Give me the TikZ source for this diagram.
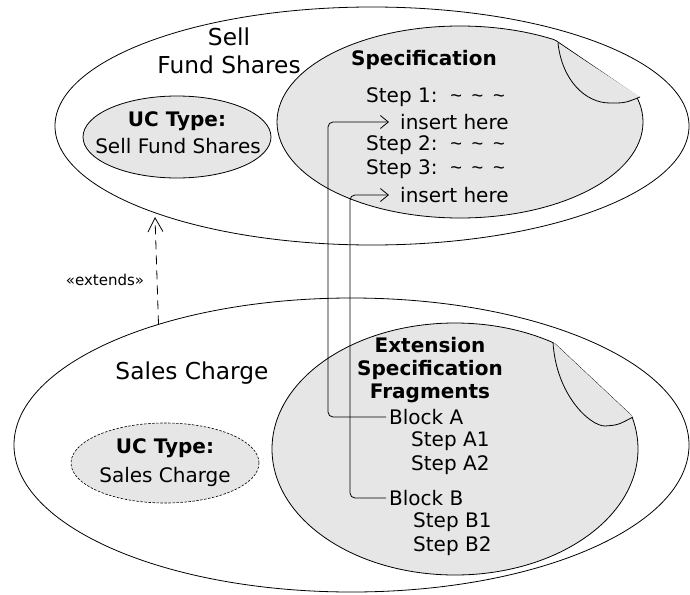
\documentclass[tikz,border=0pt]{standalone}
\usepackage{fontspec}
\setmainfont{DejaVu Sans}
\newfontfamily\tfont{Liberation Sans}
\usetikzlibrary{shapes.geometric,arrows.meta}
\definecolor{gr}{RGB}{230,230,230}
\newcommand\tl{{\tfont\textasciitilde}}
\begin{document}
\begin{tikzpicture}[x=1pt,y=-1pt,
  lw/.style={line width=0.8pt},
  big/.style={font=\fontsize{23.3}{28}\selectfont},
  txt/.style={font=\fontsize{20}{24}\selectfont, inner sep=0pt},
  btxt/.style={font=\fontsize{20}{23}\bfseries\selectfont, inner sep=0pt},
  conn/.style={lw, rounded corners=5pt, -{Straight Barb[length=8pt,width=13pt,line width=0.8pt]}},
  ext/.style={lw, dash pattern=on 9pt off 6pt, -{Straight Barb[length=14pt,width=15pt,line width=0.8pt]}}]
\useasboundingbox (0,0) rectangle (690,594);
\fill[white] (0,0) rectangle (690,594);
% outer use cases
\node[ellipse, draw, lw, minimum width=634pt, minimum height=238pt, inner sep=0pt, outer sep=0pt] (sell) at (372,126) {};
\node[ellipse, draw, lw, minimum width=675pt, minimum height=294pt, inner sep=0pt, outer sep=0pt] (charge) at (351.5,445) {};
% top specification page
\begin{scope}
\clip (312,-126) -- (886,266) -- (886,700) -- (-100,700) -- (-100,-126) -- cycle;
\draw[lw, fill=gr] (460,122) ellipse [x radius=183pt, y radius=96pt];
\end{scope}
\begin{scope}
\clip (460,122) ellipse [x radius=183pt, y radius=96pt];
\draw[lw] (312,-126) -- (886,266);
\end{scope}
\draw[lw, fill=gr] (558,43) .. controls (562,80) and (585,103) .. (610,103) .. controls (625,103) .. (640,97);
% bottom specification page
\begin{scope}
\clip (313,117) -- (873,642) -- (873,717) -- (-100,717) -- (-100,117) -- cycle;
\draw[lw, fill=gr] (455,449) ellipse [x radius=183pt, y radius=126pt];
\end{scope}
\begin{scope}
\clip (455,449) ellipse [x radius=183pt, y radius=126pt];
\draw[lw] (313,117) -- (873,642);
\end{scope}
\draw[lw, fill=gr] (553,342) .. controls (556,395) and (590,426) .. (605,426) .. controls (618,425) .. (633,417);
% UC type ellipses
\node[ellipse, draw, lw, fill=gr, minimum width=188pt, minimum height=82pt, inner sep=0pt] (uc1) at (177,137) {};
\node[ellipse, draw, line width=0.6pt, dash pattern=on 2.5pt off 1.5pt, fill=gr, minimum width=188pt, minimum height=80pt, inner sep=0pt] (uc2) at (165,463) {};
% labels
\node[big, align=center, inner sep=0pt] (lsell) at (229,51) {Sell\\Fund Shares};
\node[big, inner sep=0pt] (lcharge) at (192,373) {Sales Charge};
\node[btxt] (uc1a) at (177,121) {UC Type:};
\node[txt] (uc1b) at (178,146) {Sell Fund Shares};
\node[btxt] (uc2a) at (165,448) {UC Type:};
\node[txt] (uc2b) at (165,477) {Sales Charge};
\node[font=\fontsize{15}{18}\selectfont, inner sep=0pt] (lext) at (105,280) {«extends»};
% specification text
\node[btxt] (spec) at (424,60) {Specification};
\node[txt, anchor=west] (s1) at (366,97) {Step 1:\ \ \tl\,\ \tl\,\ \tl};
\node[txt, anchor=west] (ins1) at (400,122) {insert here};
\node[txt, anchor=west] (s2) at (366,145) {Step 2:\ \ \tl\,\ \tl\,\ \tl};
\node[txt, anchor=west] (s3) at (366,169) {Step 3:\ \ \tl\,\ \tl\,\ \tl};
\node[txt, anchor=west] (ins2) at (400,195) {insert here};
% extension fragments
\node[btxt, align=center] (ext) at (430,370) {Extension\\Specification\\Fragments};
\node[txt, anchor=west] (blockA) at (389,417) {Block A};
\node[txt, anchor=west] (sa1) at (411,441) {Step A1};
\node[txt, anchor=west] (sa2) at (411,465) {Step A2};
\node[txt, anchor=west] (blockB) at (389,498) {Block B};
\node[txt, anchor=west] (sb1) at (413,522) {Step B1};
\node[txt, anchor=west] (sb2) at (413,546) {Step B2};
% connectors
\draw[conn, shorten <=3pt, shorten >=11pt] (blockA.west) -- ++(-61,0) |- (ins1.west);
\draw[conn, shorten <=3pt, shorten >=11pt] (blockB.west) -- ++(-39,0) |- (ins2.west);
\coordinate (xtip) at (155,217);
\draw[ext] (charge.148.7) -- (xtip);
\end{tikzpicture}
\end{document}
